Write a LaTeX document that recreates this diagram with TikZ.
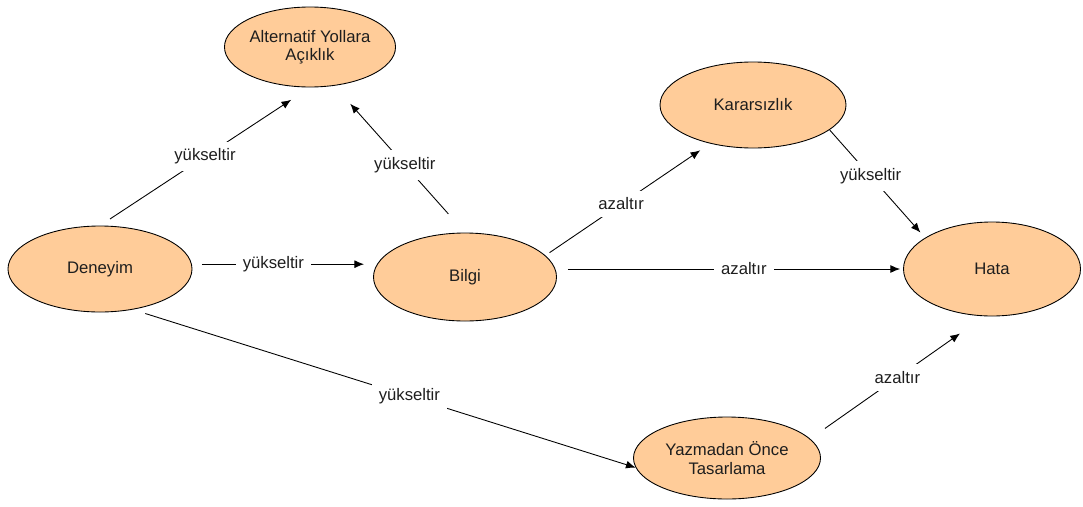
\documentclass[tikz,border=0pt]{standalone}
\usepackage{fontspec}
\setmainfont{Liberation Sans}
\usepackage{tikz}
\usetikzlibrary{trees,arrows,arrows.meta}
\usetikzlibrary{shapes.geometric}
\definecolor{peach}{RGB}{255,204,153}
\definecolor{ink}{RGB}{30,30,30}

\begin{document}
\begin{tikzpicture}[>={Latex[length=5.5pt,width=4.5pt]}]
				\tikzstyle{format} = [draw, ellipse, fill=peach, line width=0.5pt, inner sep=0pt, align=center, text=ink, font=\fontsize{9.5}{10.5}\selectfont]
				\tikzstyle{lbl} = [fill=white, inner sep=4pt, text=ink, font=\fontsize{9.5}{10.5}\selectfont]
				\useasboundingbox (0,0) rectangle (21.66,10.12);
				\path[->, line width=0.5pt]
				node[format, minimum width=3.2cm, minimum height=1.6cm] (A) at (6.2,9.18) {Alternatif Yollara\\Açıklık}
				node[format, minimum width=3.68cm, minimum height=1.72cm] (D) at (2.0,4.74) {Deneyim}
				node[format, minimum width=3.66cm, minimum height=1.76cm] (B) at (9.3,4.58) {Bilgi}
				node[format, minimum width=3.72cm, minimum height=1.72cm] (K) at (15.06,8.02) {Kararsızlık}
				node[format, minimum width=3.54cm, minimum height=1.88cm] (H) at (19.84,4.74) {Hata}
				node[format, minimum width=3.74cm, minimum height=1.64cm] (Y) at (14.54,0.96) {Yazmadan Önce\\Tasarlama}
				(D.north) edge[shorten <=0.24cm, shorten >=0.45cm] node[lbl, pos=0.5] {yükseltir} (A.south)
				(B.north) edge[shorten <=0.5cm, shorten >=0.48cm] node[lbl, pos=0.46] {yükseltir} (A.-58)
				(D.3) edge[shorten <=0.2cm, shorten >=0.18cm] node[lbl, pos=0.45] {yükseltir} (D.3 -| B.west)
				(B.15) edge[shorten <=0.1cm, shorten >=0.24cm] node[lbl, pos=0.46] {azaltır} (K.-138)
				(H.west -| B.east) edge[shorten <=0.22cm, shorten >=0.06cm] node[lbl, pos=0.54] {azaltır} (H.west)
				(K.-18) edge[shorten >=0.14cm] node[lbl, pos=0.43] {yükseltir} (H.155)
				(D.-51) edge[shorten <=0.26cm] node[lbl, pos=0.55] {yükseltir} (Y.-174)
				(Y.13) edge[shorten <=0.36cm, shorten >=0.6cm] node[lbl, pos=0.5] {azaltır} (H.-99)
				;
\end{tikzpicture}
\end{document}
